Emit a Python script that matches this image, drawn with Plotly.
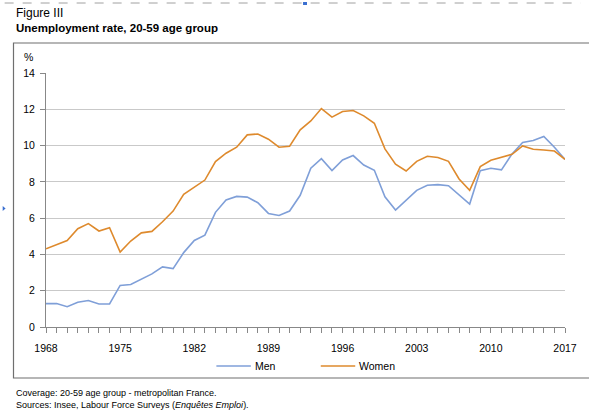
import plotly.graph_objects as go

years = list(range(1968, 2018))
men = [1.29, 1.29, 1.12, 1.36, 1.46, 1.27, 1.27, 2.29, 2.34, 2.62, 2.93, 3.31, 3.22, 4.10, 4.77, 5.06,
       6.32, 7.00, 7.20, 7.16, 6.85, 6.26, 6.15, 6.39, 7.26, 8.75, 9.28, 8.62, 9.21, 9.45, 8.93, 8.64,
       7.18, 6.45, 6.98, 7.53, 7.81, 7.85, 7.79, 7.26, 6.78, 8.62, 8.75, 8.66, 9.54, 10.17, 10.28, 10.50,
       9.91, 9.24]
women = [4.31, 4.53, 4.77, 5.42, 5.70, 5.29, 5.47, 4.13, 4.74, 5.19, 5.27, 5.80, 6.39, 7.31, 7.73, 8.10,
         9.12, 9.58, 9.91, 10.59, 10.64, 10.35, 9.91, 9.96, 10.87, 11.36, 12.04, 11.57, 11.88, 11.93, 11.64, 11.23,
         9.82, 8.97, 8.60, 9.13, 9.41, 9.34, 9.13, 8.16, 7.53, 8.84, 9.19, 9.34, 9.52, 9.98, 9.80, 9.76,
         9.70, 9.24]
xtick_labels = [1968, 1975, 1982, 1989, 1996, 2003, 2010, 2017]
ytick_vals = [0, 2, 4, 6, 8, 10, 12, 14]

MEN_C = "#7f9fd8"
WOMEN_C = "#de8a2d"
FONT = "Liberation Sans, Arial, sans-serif"

W, H = 589, 410
L, R, T, B = 46, 16, 73, 83
pw, ph = W - L - R, H - T - B

def px(xp):
    return (xp - L) / pw

def py(yp):
    return (H - B - yp) / ph

fig = go.Figure()
fig.add_trace(go.Scatter(x=years, y=men, mode="lines", name="Men",
                         line=dict(color=MEN_C, width=1.6), showlegend=False))
fig.add_trace(go.Scatter(x=years, y=women, mode="lines", name="Women",
                         line=dict(color=WOMEN_C, width=1.6), showlegend=False))

fig.update_layout(
    width=W, height=H,
    margin=dict(l=L, r=R, t=T, b=B),
    paper_bgcolor="white", plot_bgcolor="white",
    font=dict(family=FONT, size=10, color="#000"),
    xaxis=dict(range=[1968, 2017], tickvals=xtick_labels, ticktext=[str(v) for v in xtick_labels],
               ticks="outside", ticklen=5, tickcolor="#888", showgrid=False, zeroline=False,
               showline=True, linecolor="#888", linewidth=1,
               minor=dict(dtick=1, tick0=1968, ticks="outside", ticklen=5, tickcolor="#888", showgrid=False),
               tickfont=dict(size=10.5), ticklabelstandoff=6),
    yaxis=dict(range=[0, 14], tickvals=ytick_vals, ticks="outside", ticklen=5, tickcolor="#888",
               showgrid=True, gridcolor="#c9c9c9", gridwidth=1, zeroline=False,
               showline=True, linecolor="#888", linewidth=1, tickfont=dict(size=10.5),
               ticklabelstandoff=3),
)

shapes = [
    # chart frame
    dict(type="rect", xref="paper", yref="paper", x0=px(13), x1=px(W + 20), y0=py(378), y1=py(43),
         line=dict(color="#6f6f6f", width=1.2)),
    # top dashed document line
    dict(type="line", xref="paper", yref="paper", x0=px(4), x1=px(W), y0=py(3), y1=py(3),
         line=dict(color="#a0a0a0", width=1, dash="dash")),
    dict(type="rect", xref="paper", yref="paper", x0=px(307), x1=px(311), y0=py(5), y1=py(2),
         fillcolor="#3a6fd0", line=dict(width=0)),
    dict(type="path", xref="paper", yref="paper",
         path=f"M {px(2)} {py(206)} L {px(5)} {py(208.5)} L {px(2)} {py(211)} Z",
         fillcolor="#3a6fd0", line=dict(width=0)),
    # manual legend lines
    dict(type="line", xref="paper", yref="paper", x0=px(219), x1=px(254), y0=py(366), y1=py(366),
         line=dict(color=MEN_C, width=1.6)),
    dict(type="line", xref="paper", yref="paper", x0=px(325), x1=px(360), y0=py(366), y1=py(366),
         line=dict(color=WOMEN_C, width=1.6)),
]
fig.update_layout(shapes=shapes)

ann = [
    dict(text="Figure III", x=px(13), y=py(13), xanchor="left", yanchor="middle",
         font=dict(size=12)),
    dict(text="<b>Unemployment rate, 20-59 age group</b>", x=px(13), y=py(28), xanchor="left",
         yanchor="middle", font=dict(size=11.5)),
    dict(text="%", x=px(28), y=py(57), xanchor="center", yanchor="middle", font=dict(size=10.5)),
    dict(text="Men", x=px(256), y=py(366), xanchor="left", yanchor="middle", font=dict(size=10.5)),
    dict(text="Women", x=px(362), y=py(366), xanchor="left", yanchor="middle", font=dict(size=10.5)),
    dict(text="Coverage: 20-59 age group - metropolitan France.", x=px(13), y=py(393),
         xanchor="left", yanchor="middle", font=dict(size=9)),
    dict(text="Sources: Insee, Labour Force Surveys (<i>Enquêtes Emploi</i>).", x=px(13), y=py(404.5),
         xanchor="left", yanchor="middle", font=dict(size=9)),
]
for a in ann:
    a.update(xref="paper", yref="paper", showarrow=False)
fig.update_layout(annotations=ann)

fig.write_html("out.html", config={"displayModeBar": False, "staticPlot": True},
               post_script="document.body.style.margin='0';document.body.style.overflow='hidden';")
